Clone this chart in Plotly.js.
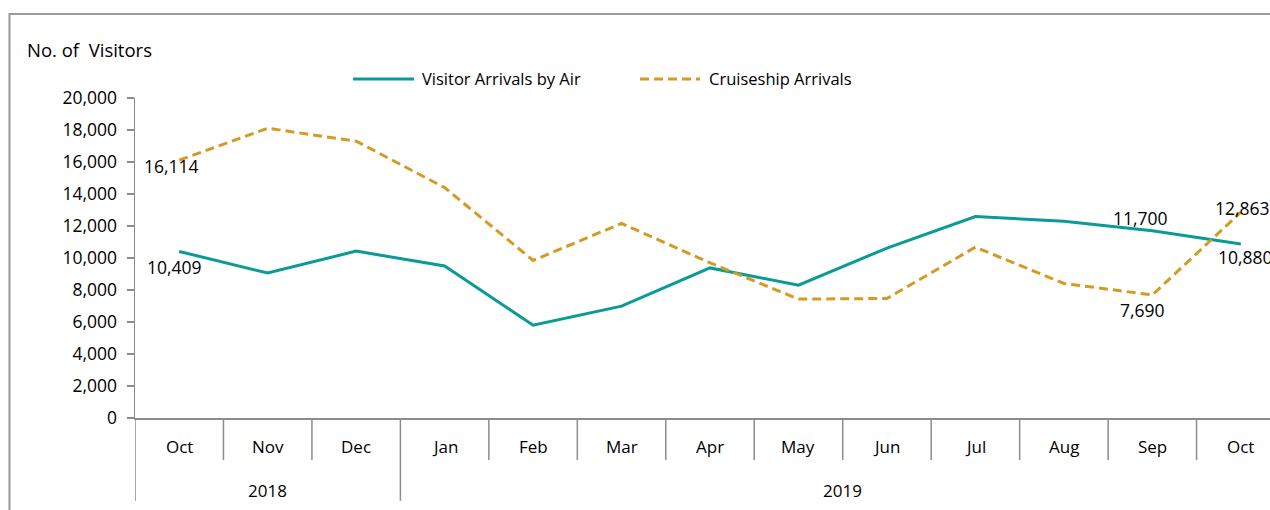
<!DOCTYPE html>
<html><head><meta charset="utf-8">
<script src="https://cdn.plot.ly/plotly-3.0.1.min.js"></script>
<style>html,body{margin:0;padding:0;background:#fff}#chart{width:1270px;height:510px}</style>
</head><body><div id="chart"></div>
<script>
// ---- data ----
const months = ["Oct","Nov","Dec","Jan","Feb","Mar","Apr","May","Jun","Jul","Aug","Sep","Oct"];
const years = ["2018","2019"];
const yearSpans = [[0,2],[3,12]];          // first and last month index of each year
const seriesNames = ["Visitor Arrivals by Air", "Cruiseship Arrivals"];
const airArrivals = [10409, 9060, 10430, 9500, 5800, 6990, 9380, 8300, 10620, 12590, 12300, 11700, 10880];
const cruiseArrivals = [16114, 18110, 17300, 14400, 9850, 12160, 9700, 7430, 7470, 10680, 8410, 7690, 12863];
const airLabelIdx = [0, 11, 12];
const cruiseLabelIdx = [0, 11, 12];
const yTicks = [0,2000,4000,6000,8000,10000,12000,14000,16000,18000,20000];

// ---- styles ----
const FONT = "'Open Sans', Lato, sans-serif";
const teal = "#0A9A97";
const gold = "#D59A22";
const gridGray = "#8c8c8c";
const goldDash = "9px,5px";
const fmt = v => v.toLocaleString("en-US");
const idx = months.map((_, i) => i);
const legFont = {family: FONT, size: 16.5, color: "#000"};
const tickFont = {family: FONT, size: 17.5, color: "#000"};
const valFont = {family: FONT, size: 17.5, color: "#000"};
const catFont = {family: FONT, size: 17, color: "#000"};
const titleFont = {family: FONT, size: 18.5, color: "#000"};

// label offsets (px) keyed by index
const airShift = {0:[-5,-16], 11:[-12,13], 12:[5,-13]};
const cruiseShift = {0:[-8,-6], 11:[-10,-15], 12:[2,4]};

const traces = [
  {x: idx, y: airArrivals, type: "scatter", mode: "lines", name: seriesNames[0],
   line: {color: teal, width: 3}, hoverinfo: "skip"},
  {x: idx, y: cruiseArrivals, type: "scatter", mode: "lines", name: seriesNames[1],
   line: {color: gold, width: 3, dash: goldDash}, hoverinfo: "skip"}
];

const annotations = [];
airLabelIdx.forEach(i => annotations.push({x: i, y: airArrivals[i], xref: "x", yref: "y", text: fmt(airArrivals[i]),
  showarrow: false, xshift: airShift[i][0], yshift: airShift[i][1], font: valFont}));
cruiseLabelIdx.forEach(i => annotations.push({x: i, y: cruiseArrivals[i], xref: "x", yref: "y", text: fmt(cruiseArrivals[i]),
  showarrow: false, xshift: cruiseShift[i][0], yshift: cruiseShift[i][1], font: valFont}));
months.forEach((m, i) => annotations.push({x: i, y: -0.0906, xref: "x", yref: "paper", text: m, showarrow: false,
  yanchor: "middle", font: catFont}));
years.forEach((yr, k) => annotations.push({x: (yearSpans[k][0] + yearSpans[k][1]) / 2, y: -0.225, xref: "x", yref: "paper",
  text: yr, showarrow: false, yanchor: "middle", font: catFont}));
annotations.push({x: -0.097, y: 1.152, xref: "paper", yref: "paper", xanchor: "left", yanchor: "middle",
  text: "No. of  Visitors", showarrow: false, font: titleFont});

const shapes = [];
// category dividers
for (let k = 0; k <= months.length; k++) {
  const b = k - 0.5;
  const isYear = yearSpans.some(s => s[0] - 0.5 === b) || b === months.length - 0.5;
  shapes.push({type: "line", xref: "x", yref: "paper", x0: b, x1: b, y0: 0, y1: isYear ? -0.259 : -0.13125,
    line: {color: gridGray, width: 1.5}});
}
// outer chart border
shapes.push({type: "rect", xref: "paper", yref: "paper", x0: -0.1106, x1: 1.02, y0: -0.4, y1: 1.2625,
  line: {color: "#9a9a9a", width: 2}, fillcolor: "rgba(0,0,0,0)"});

// legend (drawn as sample lines + text labels)
const legY = 1.0594;
const legItems = [
  {x0: 0.1921, x1: 0.2458, tx: 0.2511, color: teal, dash: "solid"},
  {x0: 0.4449, x1: 0.4978, tx: 0.5040, color: gold, dash: goldDash}
];
legItems.forEach((it, k) => {
  shapes.push({type: "line", xref: "paper", yref: "paper", x0: it.x0, x1: it.x1, y0: legY, y1: legY,
    line: {color: it.color, width: 3, dash: it.dash}});
  annotations.push({x: it.tx, y: legY, xref: "paper", yref: "paper", xanchor: "left", yanchor: "middle",
    text: seriesNames[k], showarrow: false, font: legFont});
});

const layout = {
  width: 1270, height: 510,
  margin: {l: 135, r: 0, t: 98, b: 92},
  paper_bgcolor: "#fff", plot_bgcolor: "#fff",
  showlegend: false,
  xaxis: {range: [-0.5, 12.33], showticklabels: false, ticks: "", showgrid: false, zeroline: false,
    showline: true, linecolor: gridGray, linewidth: 1.5, fixedrange: true},
  yaxis: {range: [0, 20000], tickvals: yTicks, ticktext: yTicks.map(fmt), ticks: "outside", ticklen: 7,
    tickcolor: gridGray, tickwidth: 1.5, showline: true, linecolor: gridGray, linewidth: 1.5,
    showgrid: false, zeroline: false, ticklabelstandoff: 6,
    tickfont: tickFont, fixedrange: true},
  annotations: annotations,
  shapes: shapes,
  font: legFont
};

Plotly.newPlot("chart", traces, layout, {displayModeBar: false, staticPlot: true});
</script>
</body></html>
